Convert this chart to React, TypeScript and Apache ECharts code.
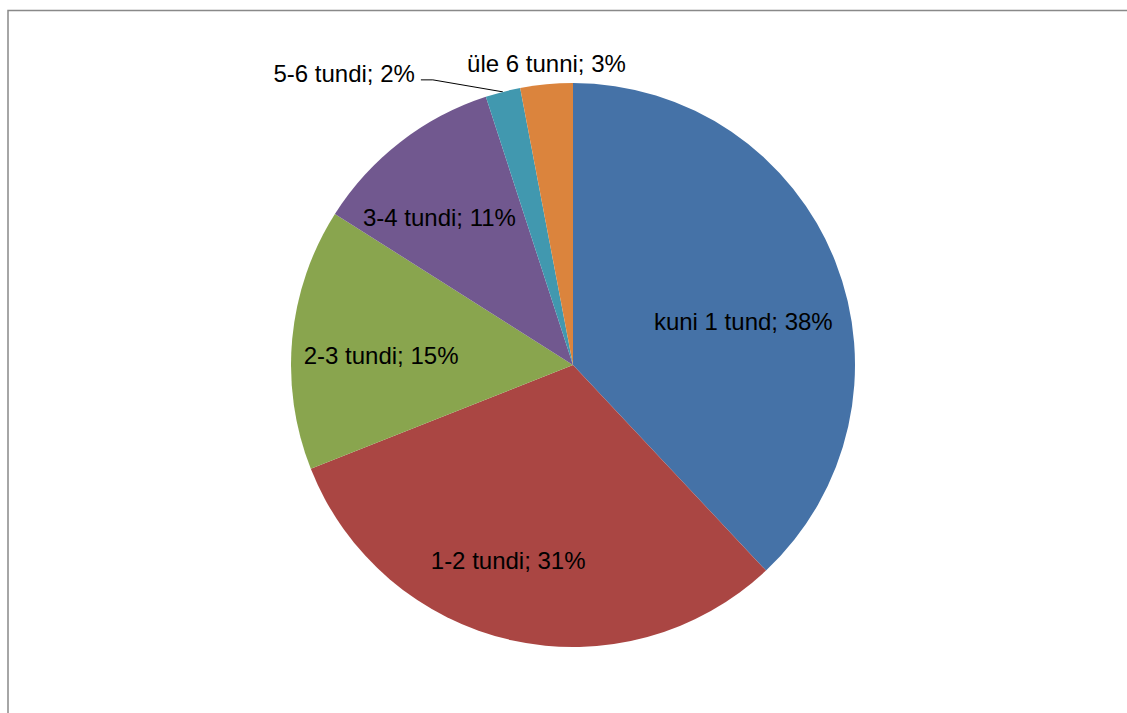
import React, { useEffect, useRef } from 'react';
import * as echarts from 'echarts';

const CATEGORIES = ['kuni 1 tund', '1-2 tundi', '2-3 tundi', '3-4 tundi', '5-6 tundi', 'üle 6 tunni'];
const VALUES = [38, 31, 15, 11, 2, 3];
const COLORS = ['#4572A7', '#AA4643', '#89A54E', '#71588F', '#4198AF', '#DB843D'];

// layout / style constants
const CX = 573;
const CY = 365;
const R = 282;
const INSIDE_RADIUS = 0.68;
const INSIDE_NUDGE = [[-8, 27], [-23, 8], [-1, 9], [-16, 4]];
const LINE_INDEX = 4;
const FONT = 'Liberation Sans';
const FONT_SIZE = 24;

function midAngle(i: number): number {
  const total = VALUES.reduce((s, v) => s + v, 0);
  let cum = 0;
  for (let k = 0; k < i; k++) cum += VALUES[k];
  return ((cum + VALUES[i] / 2) / total) * Math.PI * 2;
}

function polar(a: number, r: number): number[] {
  return [CX + r * Math.sin(a), CY - r * Math.cos(a)];
}

export default function App() {
  const ref = useRef<HTMLDivElement>(null);

  useEffect(() => {
    if (!ref.current) return;
    const chart = echarts.init(ref.current, undefined, { renderer: 'svg' });
    const data = CATEGORIES.map((name, i) => ({
      name,
      value: VALUES[i],
      itemStyle: { color: COLORS[i] },
      label: { position: i >= LINE_INDEX ? 'outside' : 'inside' },
      labelLine: { show: i === LINE_INDEX },
    }));
    chart.setOption({
      animation: false,
      backgroundColor: '#ffffff',
      graphic: [
        {
          type: 'rect',
          shape: { x: 8, y: 10.5, width: 1300, height: 900 },
          style: { fill: 'none', stroke: '#898989', lineWidth: 1.5 },
          silent: true,
          z: -1,
        },
      ],
      series: [
        {
          type: 'pie',
          center: [CX, CY],
          radius: [0, R],
          startAngle: 90,
          clockwise: true,
          silent: true,
          avoidLabelOverlap: false,
          emphasis: { disabled: true },
          itemStyle: { borderWidth: 0 },
          label: {
            show: true,
            formatter: '{b}; {c}%',
            color: '#000000',
            fontFamily: FONT,
            fontSize: FONT_SIZE,
          },
          labelLine: {
            lineStyle: { color: '#000000', width: 1 },
          },
          labelLayout: (params: any) => {
            const i = params.dataIndex;
            const a = midAngle(i);
            if (i < LINE_INDEX) {
              const p = polar(a, INSIDE_RADIUS * R);
              return {
                x: p[0] + INSIDE_NUDGE[i][0],
                y: p[1] + INSIDE_NUDGE[i][1],
                align: 'center',
                verticalAlign: 'middle',
              };
            }
            const edge = polar(a, R);
            if (i === LINE_INDEX) {
              const p2 = [edge[0] - 70, edge[1] - 12];
              const p3 = [p2[0] - 12, p2[1]];
              return {
                x: p3[0] - 6,
                y: p3[1] - 6,
                align: 'right',
                verticalAlign: 'middle',
                labelLinePoints: [edge, p2, p3],
              };
            }
            return { x: edge[0], y: edge[1] - 21, align: 'center', verticalAlign: 'middle' };
          },
          data,
        },
      ],
    });
    return () => chart.dispose();
  }, []);

  return (
    <div
      ref={ref}
      style={{ position: 'absolute', left: 0, top: 0, width: 1127, height: 713 }}
    />
  );
}
